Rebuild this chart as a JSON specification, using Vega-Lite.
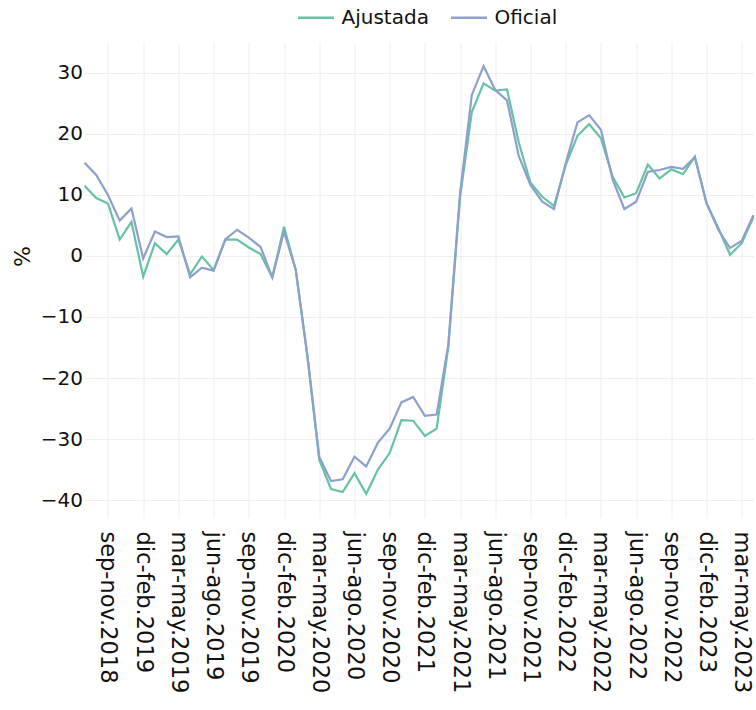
{
  "$schema": "https://vega.github.io/schema/vega-lite/v6.json",
  "width": 669,
  "height": 476,
  "autosize": {"type": "none"},
  "padding": {"left": 84.5, "top": 42, "right": 2.5, "bottom": 192},
  "background": "white",
  "config": {
    "font": "DejaVu Sans",
    "view": {"stroke": null}
  },
  "data": {
    "values": [
      {"p": "jul-sep.2018", "Ajustada": 11.5, "Oficial": 15.3},
      {"p": "ago-oct.2018", "Ajustada": 9.5, "Oficial": 13.3},
      {"p": "sep-nov.2018", "Ajustada": 8.6, "Oficial": 10.0},
      {"p": "oct-dic.2018", "Ajustada": 2.7, "Oficial": 5.8},
      {"p": "nov-ene.2019", "Ajustada": 5.6, "Oficial": 7.8},
      {"p": "dic-feb.2019", "Ajustada": -3.4, "Oficial": -0.4},
      {"p": "ene-mar.2019", "Ajustada": 2.1, "Oficial": 4.0},
      {"p": "feb-abr.2019", "Ajustada": 0.3, "Oficial": 3.1},
      {"p": "mar-may.2019", "Ajustada": 2.7, "Oficial": 3.2},
      {"p": "abr-jun.2019", "Ajustada": -3.0, "Oficial": -3.5},
      {"p": "may-jul.2019", "Ajustada": -0.1, "Oficial": -1.9},
      {"p": "jun-ago.2019", "Ajustada": -2.3, "Oficial": -2.4},
      {"p": "jul-sep.2019", "Ajustada": 2.7, "Oficial": 2.7},
      {"p": "ago-oct.2019", "Ajustada": 2.7, "Oficial": 4.3},
      {"p": "sep-nov.2019", "Ajustada": 1.4, "Oficial": 3.0},
      {"p": "oct-dic.2019", "Ajustada": 0.3, "Oficial": 1.5},
      {"p": "nov-ene.2020", "Ajustada": -3.5, "Oficial": -3.5},
      {"p": "dic-feb.2020", "Ajustada": 4.8, "Oficial": 4.0},
      {"p": "ene-mar.2020", "Ajustada": -2.3, "Oficial": -2.3},
      {"p": "feb-abr.2020", "Ajustada": -16.5, "Oficial": -16.5},
      {"p": "mar-may.2020", "Ajustada": -33.4, "Oficial": -32.9},
      {"p": "abr-jun.2020", "Ajustada": -38.2, "Oficial": -36.9},
      {"p": "may-jul.2020", "Ajustada": -38.7, "Oficial": -36.6},
      {"p": "jun-ago.2020", "Ajustada": -35.6, "Oficial": -32.9},
      {"p": "jul-sep.2020", "Ajustada": -39.0, "Oficial": -34.5},
      {"p": "ago-oct.2020", "Ajustada": -35.0, "Oficial": -30.6},
      {"p": "sep-nov.2020", "Ajustada": -32.3, "Oficial": -28.3},
      {"p": "oct-dic.2020", "Ajustada": -26.9, "Oficial": -24.0},
      {"p": "nov-ene.2021", "Ajustada": -27.0, "Oficial": -23.1},
      {"p": "dic-feb.2021", "Ajustada": -29.5, "Oficial": -26.2},
      {"p": "ene-mar.2021", "Ajustada": -28.3, "Oficial": -26.0},
      {"p": "feb-abr.2021", "Ajustada": -14.9, "Oficial": -14.5},
      {"p": "mar-may.2021", "Ajustada": 9.7, "Oficial": 10.3},
      {"p": "abr-jun.2021", "Ajustada": 23.6, "Oficial": 26.4},
      {"p": "may-jul.2021", "Ajustada": 28.3, "Oficial": 31.1},
      {"p": "jun-ago.2021", "Ajustada": 27.1, "Oficial": 27.2},
      {"p": "jul-sep.2021", "Ajustada": 27.3, "Oficial": 25.5},
      {"p": "ago-oct.2021", "Ajustada": 18.6, "Oficial": 16.4},
      {"p": "sep-nov.2021", "Ajustada": 12.0, "Oficial": 11.6},
      {"p": "oct-dic.2021", "Ajustada": 9.7, "Oficial": 8.9},
      {"p": "nov-ene.2022", "Ajustada": 8.2, "Oficial": 7.7},
      {"p": "dic-feb.2022", "Ajustada": 14.9, "Oficial": 15.2},
      {"p": "ene-mar.2022", "Ajustada": 19.7, "Oficial": 21.9},
      {"p": "feb-abr.2022", "Ajustada": 21.6, "Oficial": 23.1},
      {"p": "mar-may.2022", "Ajustada": 19.3, "Oficial": 20.7},
      {"p": "abr-jun.2022", "Ajustada": 13.0, "Oficial": 12.5},
      {"p": "may-jul.2022", "Ajustada": 9.6, "Oficial": 7.7},
      {"p": "jun-ago.2022", "Ajustada": 10.3, "Oficial": 8.9},
      {"p": "jul-sep.2022", "Ajustada": 15.0, "Oficial": 13.8},
      {"p": "ago-oct.2022", "Ajustada": 12.7, "Oficial": 14.1},
      {"p": "sep-nov.2022", "Ajustada": 14.2, "Oficial": 14.6},
      {"p": "oct-dic.2022", "Ajustada": 13.4, "Oficial": 14.3},
      {"p": "nov-ene.2023", "Ajustada": 16.3, "Oficial": 16.2},
      {"p": "dic-feb.2023", "Ajustada": 8.6, "Oficial": 8.7},
      {"p": "ene-mar.2023", "Ajustada": 4.6, "Oficial": 4.3},
      {"p": "feb-abr.2023", "Ajustada": 0.2, "Oficial": 1.3},
      {"p": "mar-may.2023", "Ajustada": 2.1, "Oficial": 2.5},
      {"p": "abr-jun.2023", "Ajustada": 6.4, "Oficial": 6.7}
    ]
  },
  "transform": [{"fold": ["Ajustada", "Oficial"], "as": ["serie", "valor"]}],
  "encoding": {
    "x": {
      "field": "p",
      "type": "ordinal",
      "sort": null,
      "scale": {"type": "point", "padding": 0},
      "axis": {
        "title": null,
        "values": ["sep-nov.2018", "dic-feb.2019", "mar-may.2019", "jun-ago.2019", "sep-nov.2019", "dic-feb.2020", "mar-may.2020", "jun-ago.2020", "sep-nov.2020", "dic-feb.2021", "mar-may.2021", "jun-ago.2021", "sep-nov.2021", "dic-feb.2022", "mar-may.2022", "jun-ago.2022", "sep-nov.2022", "dic-feb.2023", "mar-may.2023"],
        "labelAngle": 90,
        "labelAlign": "left",
        "labelBaseline": "middle",
        "labelPadding": 13,
        "labelFontSize": 22.5,
        "labelColor": "#111",
        "labelOverlap": false,
        "ticks": false,
        "domain": false,
        "grid": true,
        "gridColor": "#eeeeee",
        "gridWidth": 1
      }
    }
  },
  "layer": [
    {
      "mark": {"type": "rule", "color": "#888888", "strokeWidth": 2},
      "encoding": {"y": {"datum": 0, "type": "quantitative"}}
    },
    {
      "mark": {"type": "line", "strokeWidth": 2.2},
      "encoding": {
        "y": {
          "field": "valor",
          "type": "quantitative",
          "scale": {"domain": [-42.95, 35.08], "nice": false, "zero": false},
          "axis": {
            "title": "%",
            "titleFontSize": 22,
            "titleFontWeight": "normal",
            "titleColor": "#111",
            "titleAngle": -90,
            "titleX": -62,
            "titleY": 214,
            "titleAlign": "center",
            "titleBaseline": "middle",
            "values": [-40, -30, -20, -10, 0, 10, 20, 30],
            "labelFontSize": 20,
            "labelColor": "#111",
            "labelPadding": 2,
            "ticks": false,
            "domain": false,
            "grid": true,
            "gridColor": "#eeeeee",
            "gridWidth": 1
          }
        },
        "color": {
          "field": "serie",
          "type": "nominal",
          "scale": {"domain": ["Ajustada", "Oficial"], "range": ["#66c2a5", "#8da0cb"]},
          "legend": {
            "title": null,
            "orient": "none",
            "direction": "horizontal",
            "legendX": 212,
            "legendY": -44,
            "symbolType": "stroke",
            "symbolSize": 1296,
            "symbolStrokeWidth": 2.5,
            "labelFontSize": 20,
            "labelColor": "#111",
            "labelOffset": 6,
            "columnPadding": 16
          }
        }
      }
    }
  ]
}
